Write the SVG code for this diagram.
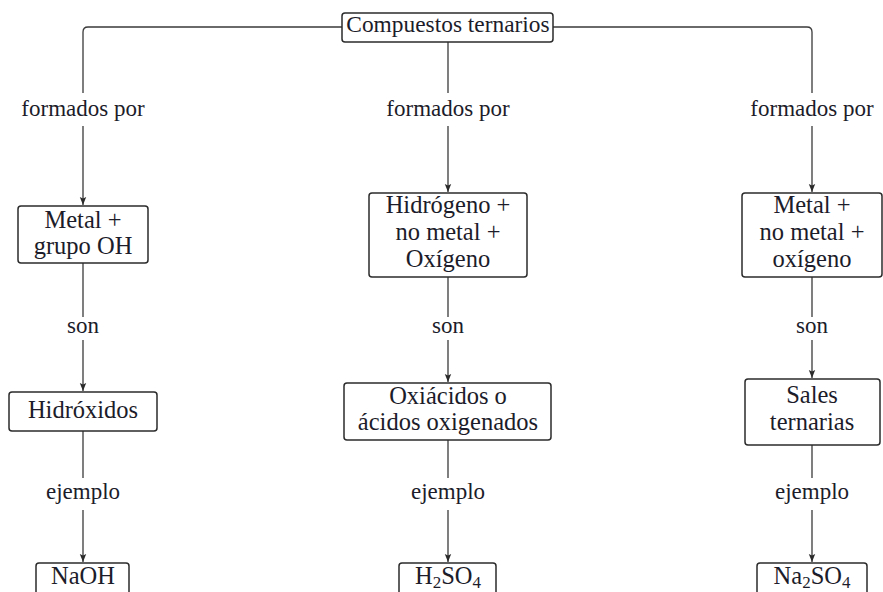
<svg xmlns="http://www.w3.org/2000/svg" width="883" height="592" viewBox="0 0 883 592" font-family="'Liberation Serif', 'DejaVu Serif', serif">
<style>
.box{fill:#fff;stroke:#2b2b2b;stroke-width:1.5}
.t{font-family:"Liberation Serif","DejaVu Serif",serif;font-size:24.5px;fill:#1c1c2a;text-anchor:middle}
.l{font-family:"Liberation Serif","DejaVu Serif",serif;font-size:23px;fill:#1c1c2a;text-anchor:middle}
.c{fill:none;stroke:#3a3a3a;stroke-width:1.3}
.s{font-size:17px}
</style>
<defs>
<marker id="ah" markerUnits="userSpaceOnUse" markerWidth="10" markerHeight="10" refX="8" refY="4" orient="auto">
<path d="M0,0.8 L8,4 L0,7.2 L1.5,4 z" fill="#2b2b2b"/>
</marker>
</defs>
<g id="connectors">
<path class="c" d="M342,27 H88 Q83,27 83,32 V93"/>
<path class="c" d="M553,27 H807 Q812,27 812,32 V93"/>
<path class="c" d="M448,42 V93"/>
<path class="c" d="M83,126 V205" marker-end="url(#ah)"/>
<path class="c" d="M448,126 V192" marker-end="url(#ah)"/>
<path class="c" d="M812,126 V192" marker-end="url(#ah)"/>
<path class="c" d="M83,263 V317"/>
<path class="c" d="M448,277 V317"/>
<path class="c" d="M812,277 V317"/>
<path class="c" d="M83,340 V391" marker-end="url(#ah)"/>
<path class="c" d="M448,340 V382" marker-end="url(#ah)"/>
<path class="c" d="M812,340 V378" marker-end="url(#ah)"/>
<path class="c" d="M83,431 V478"/>
<path class="c" d="M448,440 V478"/>
<path class="c" d="M812,445 V478"/>
<path class="c" d="M83,510 V562" marker-end="url(#ah)"/>
<path class="c" d="M448,510 V562" marker-end="url(#ah)"/>
<path class="c" d="M812,510 V562" marker-end="url(#ah)"/>
<text class="l" x="83" y="116">formados por</text>
<text class="l" x="448" y="116">formados por</text>
<text class="l" x="812" y="116">formados por</text>
<text class="l" x="83" y="333">son</text>
<text class="l" x="448" y="333">son</text>
<text class="l" x="812" y="333">son</text>
<text class="l" x="83" y="499">ejemplo</text>
<text class="l" x="448" y="499">ejemplo</text>
<text class="l" x="812" y="499">ejemplo</text>
</g>
<g id="root">
<rect class="box" x="342" y="13" width="211" height="29" rx="3"/>
<text class="l" x="448" y="32" style="font-size:23.4px">Compuestos ternarios</text>
</g>
<g id="n-metal-oh">
<rect class="box" x="18" y="206" width="130" height="57" rx="3"/>
<text class="t" x="83" y="228">Metal +</text>
<text class="t" x="83" y="254">grupo OH</text>
</g>
<g id="n-hidrogeno">
<rect class="box" x="369" y="193" width="158" height="84" rx="3"/>
<text class="t" x="448" y="213">Hidrógeno +</text>
<text class="t" x="448" y="240">no metal +</text>
<text class="t" x="448" y="267">Oxígeno</text>
</g>
<g id="n-metal-nometal">
<rect class="box" x="742" y="193" width="140" height="84" rx="3"/>
<text class="t" x="812" y="213">Metal +</text>
<text class="t" x="812" y="240">no metal +</text>
<text class="t" x="812" y="267">oxígeno</text>
</g>
<g id="n-hidroxidos">
<rect class="box" x="9" y="392" width="148" height="39" rx="3"/>
<text class="t" x="83" y="418">Hidróxidos</text>
</g>
<g id="n-oxiacidos">
<rect class="box" x="344" y="383" width="207" height="57" rx="3"/>
<text class="t" x="448" y="404">Oxiácidos o</text>
<text class="t" x="448" y="430">ácidos oxigenados</text>
</g>
<g id="n-sales">
<rect class="box" x="745" y="379" width="135" height="66" rx="3"/>
<text class="t" x="812" y="403">Sales</text>
<text class="t" x="812" y="430">ternarias</text>
</g>
<g id="n-naoh">
<rect class="box" x="36" y="563" width="93" height="40" rx="3"/>
<text class="t" x="83" y="584">NaOH</text>
</g>
<g id="n-h2so4">
<rect class="box" x="399" y="563" width="97" height="40" rx="3"/>
<text class="t" x="448" y="584">H<tspan class="s" dy="4">2</tspan><tspan dy="-4">SO</tspan><tspan class="s" dy="4">4</tspan></text>
</g>
<g id="n-na2so4">
<rect class="box" x="757" y="563" width="110" height="40" rx="3"/>
<text class="t" x="812" y="584">Na<tspan class="s" dy="4">2</tspan><tspan dy="-4">SO</tspan><tspan class="s" dy="4">4</tspan></text>
</g>
</svg>
